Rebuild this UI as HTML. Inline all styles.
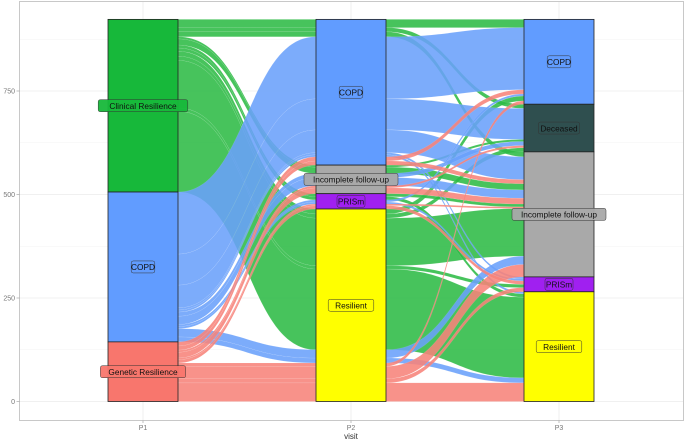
<!DOCTYPE html>
<html><head><meta charset="utf-8"><style>
body{margin:0;background:#fff}
svg{display:block;font-family:"Liberation Sans",sans-serif}
</style></head><body>
<svg id="chart" width="685" height="441" viewBox="0 0 685 441" xmlns="http://www.w3.org/2000/svg">
<rect x="0" y="0" width="685" height="441" fill="#fff"/>
<g id="grid"></g>
<g id="flows"></g>
<g id="strata"></g>
<g id="axes"></g>
</svg>
<script>
// ---- data ----
const axesNames = ["P1","P2","P3"];
const strataP1 = ["Clinical Resilience","COPD","Genetic Resilience"];
const strataP2 = ["COPD","Incomplete follow-up","PRISm","Resilient"];
const strataP3 = ["COPD","Deceased","Incomplete follow-up","PRISm","Resilient"];
const alluviaP1 = ["Clinical Resilience","Clinical Resilience","Clinical Resilience","Clinical Resilience","Clinical Resilience","Clinical Resilience","Clinical Resilience","Clinical Resilience","Clinical Resilience","Clinical Resilience","Clinical Resilience","Clinical Resilience",
 "COPD","COPD","COPD","COPD","COPD","COPD","COPD","COPD","COPD","COPD","COPD","COPD",
 "Genetic Resilience","Genetic Resilience","Genetic Resilience","Genetic Resilience","Genetic Resilience","Genetic Resilience","Genetic Resilience","Genetic Resilience","Genetic Resilience","Genetic Resilience"];
const alluviaP2 = ["Resilient","Resilient","Resilient","Resilient","Resilient","COPD","COPD","COPD","Incomplete follow-up","Incomplete follow-up","PRISm","PRISm",
 "COPD","COPD","COPD","COPD","COPD","Incomplete follow-up","Incomplete follow-up","Resilient","Resilient","PRISm","PRISm","PRISm",
 "Resilient","Resilient","Resilient","Resilient","COPD","COPD","Incomplete follow-up","Incomplete follow-up","PRISm","PRISm"];
const alluviaP3 = ["Resilient","Incomplete follow-up","PRISm","COPD","Deceased","COPD","Deceased","Incomplete follow-up","Incomplete follow-up","Deceased","Resilient","Incomplete follow-up",
 "COPD","Deceased","Incomplete follow-up","Resilient","PRISm","Incomplete follow-up","Deceased","Resilient","Incomplete follow-up","Incomplete follow-up","COPD","PRISm",
 "Resilient","Incomplete follow-up","PRISm","COPD","COPD","Incomplete follow-up","Incomplete follow-up","Deceased","PRISm","Incomplete follow-up"];
const alluviaCount = [195,115,8,12,10,20,10,12,15,5,8,7,
 150,75,55,5,5,20,10,12,20,0,5,5,
 45,30,10,8,10,10,14,5,8,4];
const yTicks = [0,250,500,750];

// ---- scales ----
const Y0 = 401.5, K = 0.414;
const y = v => Y0 - v*K;
const axX = [143,351,559], halfW = 35;
const fillS = {"Clinical Resilience":"#17b83a","COPD":"#619cff","Genetic Resilience":"#f8766d",
 "Incomplete follow-up":"#a9a9a9","PRISm":"#a020f0","Resilient":"#ffff00","Deceased":"#2f4f4f"};
const flowC = {"Clinical Resilience":"#2dbb46","COPD":"#6aa1fb","Genetic Resilience":"#f7837a"};
const NS="http://www.w3.org/2000/svg";
function mk(tag,attrs,parent){const e=document.createElementNS(NS,tag);for(const k in attrs)e.setAttribute(k,attrs[k]);parent.appendChild(e);return e;}

const grid=document.getElementById('grid'), axes=document.getElementById('axes');
mk('rect',{x:19.5,y:1.5,width:664,height:419,fill:'#fff',stroke:'#c8c8c8','stroke-width':1},grid);
[125,375,625,875].forEach(v=>mk('line',{x1:20,x2:683,y1:y(v),y2:y(v),stroke:'#f3f3f3','stroke-width':0.6},grid));
yTicks.forEach(v=>{
  const gl=mk('line',{x1:20,x2:683,y1:y(v),y2:y(v),stroke:'#ebebeb','stroke-width':0.8},grid);
  
  
  const t=mk('text',{x:15,y:y(v)+2.5,'font-size':7,fill:'#777','text-anchor':'end'},axes);
  t.textContent=v;
  
  
  mk('line',{x1:16.5,x2:19.5,y1:y(v),y2:y(v),stroke:'#999','stroke-width':0.6},axes);
});
axX.forEach((x,i)=>{
  mk('line',{x1:x,x2:x,y1:2,y2:420,stroke:'#ebebeb','stroke-width':0.8},grid);
  mk('line',{x1:x,x2:x,y1:420.5,y2:423,stroke:'#999','stroke-width':0.6},axes);
  const t=mk('text',{x:x,y:430,'font-size':7,fill:'#777','text-anchor':'middle'},axes);
  t.textContent=axesNames[i];
  
  
});
const xt=mk('text',{x:351,y:439,'font-size':8,fill:'#333','text-anchor':'middle'},axes);
xt.textContent='visit';



// ---- stacking ----
const lists=[strataP1,strataP2,strataP3];
const vals=[alluviaP1,alluviaP2,alluviaP3];
const n=alluviaCount.length;
const idx=(a,i)=>lists[a].indexOf(vals[a][i]);
const keyOrder=[[1,2],[0,2],[1,0]];
const pos=[[],[],[]], strataBounds=[[],[],[]];
for(let a=0;a<3;a++){
  const order=[...Array(n).keys()].sort((p,q)=>{
    // bottom-up: higher stratum index first (bottom)
    let d=idx(a,q)-idx(a,p); if(d) return d;
    for(const o of keyOrder[a]){d=idx(o,q)-idx(o,p); if(d) return d;}
    return q-p;
  });
  let cum=0;
  order.forEach(i=>{pos[a][i]=[cum,cum+alluviaCount[i]];cum+=alluviaCount[i];});
  lists[a].forEach((s)=>{
    let lo=Infinity,hi=-Infinity;
    for(let i=0;i<n;i++) if(vals[a][i]===s){lo=Math.min(lo,pos[a][i][0]);hi=Math.max(hi,pos[a][i][1]);}
    strataBounds[a].push([s,lo,hi]);
  });
}

// ---- flows ----
const flows=document.getElementById('flows');
for(let a=0;a<2;a++){
  for(let i=0;i<n;i++){
    if(!alluviaCount[i]) continue;
    const x1=axX[a]+halfW, x2=axX[a+1]-halfW, xm=(x1+x2)/2;
    const [s0,s1]=pos[a][i],[t0,t1]=pos[a+1][i];
    const d=`M${x1},${y(s1)} C${xm},${y(s1)} ${xm},${y(t1)} ${x2},${y(t1)} L${x2},${y(t0)} C${xm},${y(t0)} ${xm},${y(s0)} ${x1},${y(s0)} Z`;
    const p=mk('path',{d:d,fill:flowC[alluviaP1[i]],'fill-opacity':0.88,stroke:'#fff','stroke-opacity':0.25,'stroke-width':0.3},flows);
    
    
  }
}

// ---- strata ----
const strata=document.getElementById('strata');
for(let a=0;a<3;a++){
  strataBounds[a].forEach(([s,lo,hi])=>{
    if(!isFinite(lo)) return;
    const r=mk('rect',{x:axX[a]-halfW,y:y(hi),width:2*halfW,height:(hi-lo)*K,fill:fillS[s],stroke:'#222','stroke-width':0.8},strata);
    
    
  });
}
for(let a=0;a<3;a++){
  strataBounds[a].forEach(([s,lo,hi])=>{
    if(!isFinite(lo)) return;
    const cy=y((lo+hi)/2);
    const w=s.length*4.4+6;
    const dark = s==="Deceased";
    mk('rect',{x:axX[a]-w/2,y:cy-6,width:w,height:12,rx:2,fill:fillS[s],stroke:'#333','stroke-width':0.5,'fill-opacity':dark?1:0.95},strata);
    const t=mk('text',{x:axX[a],y:cy+3.2,'font-size':8.3,fill:'#111','text-anchor':'middle'},strata);
    t.textContent=s;
    
    
  });
}
</script>
</body></html>
